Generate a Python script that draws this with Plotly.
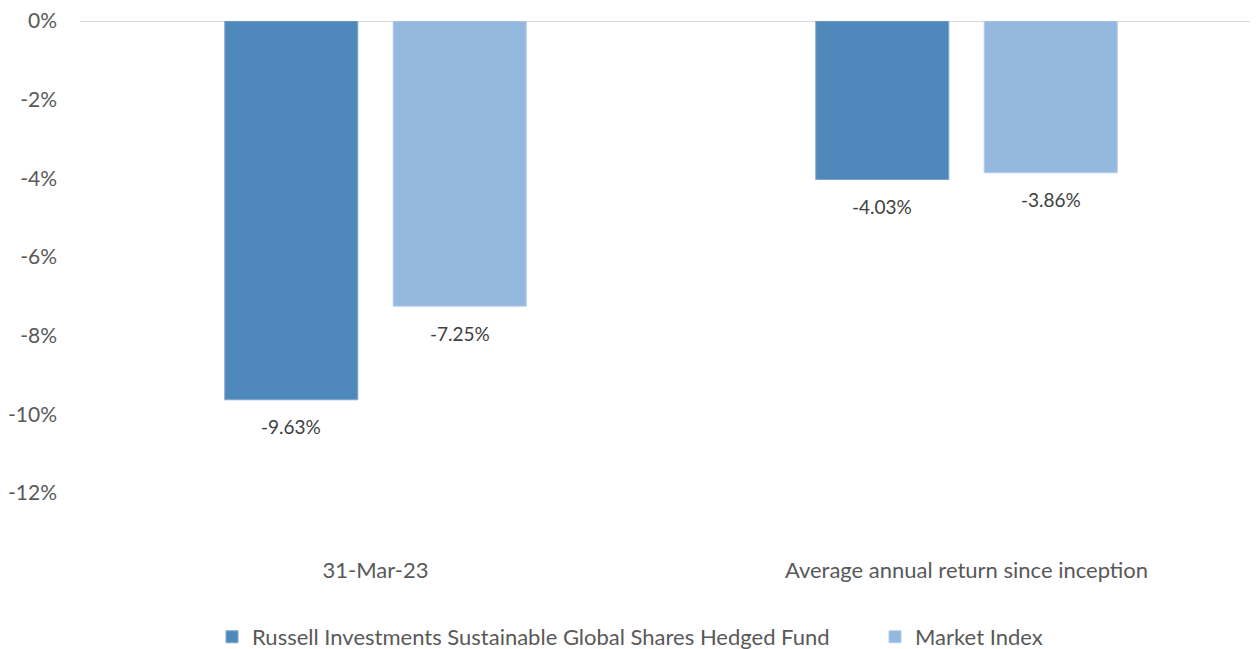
import plotly.graph_objects as go

categories = ["31-Mar-23", "Average annual return since inception"]
fund_name = "Russell Investments Sustainable Global Shares Hedged Fund"
index_name = "Market Index"
fund_values = [-9.63, -4.03]
index_values = [-7.25, -3.86]
y_tick_vals = [0, -2, -4, -6, -8, -10, -12]
y_tick_text = ["0%", "-2%", "-4%", "-6%", "-8%", "-10%", "-12%"]

FONT = "Lato"
DARK = "#4F88BB"
LIGHT = "#95B8DF"
BARGAP = 0.43
GROUPGAP = 0.21

fig = go.Figure()
fig.add_trace(go.Bar(
    name=fund_name, x=categories, y=fund_values, legend="legend",
    marker=dict(color=DARK, line=dict(color="#7FA7D3", width=1)),
))
fig.add_trace(go.Bar(
    name=index_name, x=categories, y=index_values, legend="legend2",
    marker=dict(color=LIGHT, line=dict(color="#B5CDEA", width=1)),
))

offset = (1 - BARGAP) / 4
for i, cat in enumerate(categories):
    for vals, sign in ((fund_values, -1), (index_values, 1)):
        v = vals[i]
        fig.add_annotation(
            x=i + sign * offset, y=v, xref="x", yref="y",
            text=f"{v:.2f}%", showarrow=False,
            yanchor="middle", yshift=-27,
            font=dict(family=FONT, size=19, color="#404040"),
        )

legend_font = dict(family=FONT, size=22, color="#595959")
fig.update_layout(
    width=1258, height=649,
    margin=dict(l=72, r=4, t=13, b=164, autoexpand=False),
    paper_bgcolor="white", plot_bgcolor="white",
    barmode="group", bargap=BARGAP, bargroupgap=GROUPGAP,
    font=dict(family=FONT, size=22, color="#595959"),
    showlegend=True,
    legend=dict(
        orientation="h", x=0.1117, xanchor="left", y=-0.305, yanchor="middle",
        font=legend_font, itemwidth=30,
    ),
    legend2=dict(
        orientation="h", x=0.6726, xanchor="left", y=-0.305, yanchor="middle",
        font=legend_font, itemwidth=30,
    ),
    xaxis=dict(
        type="category", showgrid=False, zeroline=False, showline=False,
        ticks="", ticklabelstandoff=62, automargin=False,
        tickfont=dict(family=FONT, size=22, color="#595959"),
    ),
    yaxis=dict(
        range=[-12, 0], tickvals=y_tick_vals, ticktext=y_tick_text,
        showgrid=False, zeroline=True, zerolinecolor="#D9D9D9", zerolinewidth=1,
        showline=False, ticks="", ticklabelstandoff=22, automargin=False,
        ticklabeloverflow="allow",
        tickfont=dict(family=FONT, size=21, color="#595959"),
    ),
)

fig.write_html("out.html")
